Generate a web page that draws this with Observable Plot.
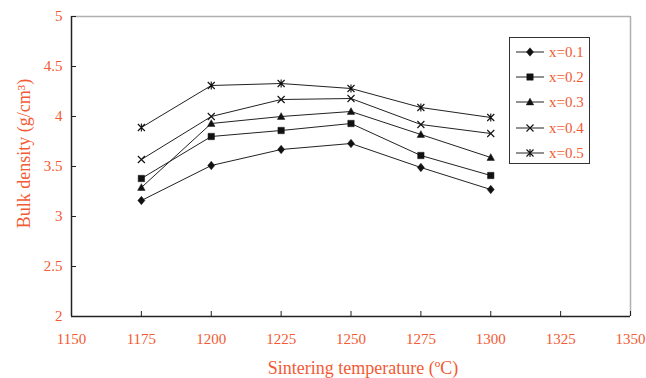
<!DOCTYPE html>
<html>
<head>
<meta charset="utf-8">
<script src="https://cdn.jsdelivr.net/npm/d3@7"></script>
<script src="https://cdn.jsdelivr.net/npm/@observablehq/plot@0.6"></script>
<style>
  html, body { margin: 0; padding: 0; background: #fff; }
  #chart { position: relative; width: 646px; height: 378px; }
  #legend { position: absolute; left: 509px; top: 37px; }
</style>
</head>
<body>
<div id="chart"></div>
<script>
// ---- data ----
const temperatures = [1175, 1200, 1225, 1250, 1275, 1300];
const seriesNames = ["x=0.1", "x=0.2", "x=0.3", "x=0.4", "x=0.5"];
const density01 = [3.16, 3.51, 3.67, 3.73, 3.49, 3.27];
const density02 = [3.38, 3.80, 3.86, 3.93, 3.61, 3.41];
const density03 = [3.29, 3.93, 4.00, 4.05, 3.82, 3.59];
const density04 = [3.57, 4.00, 4.17, 4.18, 3.92, 3.83];
const density05 = [3.89, 4.31, 4.33, 4.28, 4.09, 3.99];
const xTicks = [1150, 1175, 1200, 1225, 1250, 1275, 1300, 1325, 1350];
const yTicks = [2, 2.5, 3, 3.5, 4, 4.5, 5];
const xLabel = "Sintering temperature (ºC)";
const yLabel = "Bulk density (g/cm³)";

const seriesValues = [density01, density02, density03, density04, density05];
const rows = [];
seriesNames.forEach((s, i) => temperatures.forEach((t, j) => rows.push({series: s, temp: t, density: seriesValues[i][j]})));

// ---- symbols ----
const symDiamond = {draw(c, size) { const k = Math.sqrt(size); const w = k * 0.55, h = k * 0.66;
  c.moveTo(0, -h); c.lineTo(w, 0); c.lineTo(0, h); c.lineTo(-w, 0); c.closePath(); }};
const symSquare = {draw(c, size) { const w = Math.sqrt(size) / 2; c.rect(-w, -w, 2 * w, 2 * w); }};
const symTriangle = {draw(c, size) { const k = Math.sqrt(size); const w = k * 0.6, h = k * 0.62;
  c.moveTo(0, -h); c.lineTo(w, h * 0.75); c.lineTo(-w, h * 0.75); c.closePath(); }};
const symTimes = {draw(c, size) { const r = Math.sqrt(size) * 0.55;
  c.moveTo(-r, -r); c.lineTo(r, r); c.moveTo(-r, r); c.lineTo(r, -r); }};
const symStar = {draw(c, size) { const r = Math.sqrt(size) * 0.55;
  c.moveTo(-r, -r); c.lineTo(r, r); c.moveTo(-r, r); c.lineTo(r, -r); c.moveTo(0, -r * 1.15); c.lineTo(0, r * 1.15); }};
const seriesSymbols = [symDiamond, symSquare, symTriangle, symTimes, symStar];
const seriesFilled = [true, true, true, false, false];
const seriesR = [3.6, 3.6, 3.5, 3.6, 3.6];

const orange = "#f25a34";
const font = "'Liberation Serif', 'Times New Roman', serif";

const marks = [
  Plot.ruleY([5], {stroke: "#b0b0b0", strokeWidth: 1.5}),
  Plot.ruleX([1350], {stroke: "#b0b0b0", strokeWidth: 1.5}),
  Plot.ruleX([1150], {stroke: "#222", strokeWidth: 1.5}),
  Plot.ruleY([2], {stroke: "#222", strokeWidth: 1.5}),
  Plot.axisY({ticks: yTicks, tickSize: -5, fill: "none", stroke: "#222", label: null}),
  Plot.axisY({ticks: yTicks, tickSize: 0, tickPadding: 9, fill: orange, fontSize: 15, label: null, tickFormat: d => String(d)}),
  Plot.axisX({ticks: xTicks, tickSize: -5, fill: "none", stroke: "#222", label: null}),
  Plot.axisX({ticks: xTicks, tickSize: 0, tickPadding: 17, fill: orange, fontSize: 15, label: null, tickFormat: d => String(d)}),
  Plot.text([xLabel], {frameAnchor: "bottom", textAnchor: "middle", lineAnchor: "middle", dx: 12, dy: 52, text: d => d, fill: orange, fontSize: 18}),
  Plot.text([yLabel], {frameAnchor: "left", textAnchor: "middle", lineAnchor: "middle", dx: -47, dy: -13, rotate: -90, text: d => d, fill: orange, fontSize: 18})
];
seriesNames.forEach((s, i) => {
  const data = rows.filter(d => d.series === s);
  marks.push(Plot.line(data, {x: "temp", y: "density", stroke: "#222", strokeWidth: 1}));
});
seriesNames.forEach((s, i) => {
  const data = rows.filter(d => d.series === s);
  marks.push(Plot.dot(data, {x: "temp", y: "density", symbol: seriesSymbols[i], r: seriesR[i],
    fill: seriesFilled[i] ? "#111" : "none", stroke: "#111", strokeWidth: seriesFilled[i] ? 0.5 : 1.1}));
});

const chart = Plot.plot({
  width: 646, height: 378,
  marginLeft: 71, marginRight: 16, marginTop: 16, marginBottom: 62,
  style: {fontFamily: font, background: "#fff", overflow: "visible"},
  x: {domain: [1150, 1350], axis: null},
  y: {domain: [2, 5], axis: null},
  marks
});
document.getElementById("chart").appendChild(chart);

// ---- legend ----
const lw = 80, lh = 126, rowY = [15, 40, 65, 91, 116];
const legend = d3.select("#chart").append("svg").attr("id", "legend")
  .attr("width", lw + 1).attr("height", lh + 1)
  .style("font-family", font);
legend.append("rect").attr("x", 0.5).attr("y", 0.5).attr("width", lw).attr("height", lh)
  .attr("fill", "#fff").attr("stroke", "#333").attr("stroke-width", 1);
seriesNames.forEach((s, i) => {
  const g = legend.append("g").attr("transform", `translate(0,${rowY[i]})`);
  g.append("line").attr("x1", 7).attr("x2", 35).attr("stroke", "#222").attr("stroke-width", 1);
  g.append("path").attr("transform", "translate(21,0)")
    .attr("d", d3.symbol(seriesSymbols[i], Math.PI * seriesR[i] * seriesR[i])())
    .attr("fill", seriesFilled[i] ? "#111" : "none").attr("stroke", "#111")
    .attr("stroke-width", seriesFilled[i] ? 0.5 : 1.1);
  g.append("text").attr("x", 40).attr("dy", "0.35em").attr("font-size", 15).attr("fill", orange).text(s);
});
</script>
</body>
</html>
